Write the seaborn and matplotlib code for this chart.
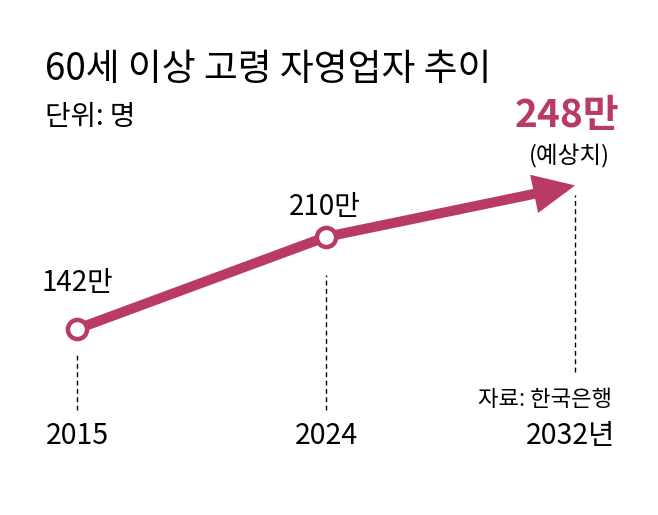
import pandas as pd
import seaborn as sns
import matplotlib.pyplot as plt

plt.switch_backend('Agg')

years = ["2015", "2024", "2032년"]
values = [142, 210, 248]
value_labels = ["142만", "210만", "248만"]
title = "60세 이상 고령 자영업자 추이"
unit_note = "단위: 명"
forecast_note = "(예상치)"
source_note = "자료: 한국은행"

RED = "#B93A63"

sns.set_theme(style="white")
plt.rcParams['font.family'] = ['Noto Sans CJK KR', 'DejaVu Sans']
plt.rcParams['text.color'] = 'black'

df = pd.DataFrame({"pos": range(len(years)), "value": values, "year": years})

fig = plt.figure(figsize=(6.58, 5.15), dpi=100)
ax = fig.add_axes([0, 0, 1, 1])
ax.set_xlim(-0.31, 2.333)
ax.set_ylim(4.5, 385)
ax.axis("off")

# dashed guides under each point
ax.vlines(df["pos"][0], 82, 125, colors="black", linestyles=(0, (3.5, 2.5)), lw=1)
ax.vlines(df["pos"][1], 82, 182, colors="black", linestyles=(0, (3.5, 2.5)), lw=1)
ax.vlines(df["pos"][2], 110, 241, colors="black", linestyles=(0, (3.5, 2.5)), lw=1)

# solid part of the line
sns.lineplot(data=df.iloc[:2], x="pos", y="value", color=RED, lw=7.2,
             ax=ax, solid_capstyle="butt", zorder=3)

# forecast arrow
ax.annotate("", xy=(df["pos"][2], values[2]), xytext=(df["pos"][1], values[1]),
            arrowprops=dict(arrowstyle="-|>,head_length=1.5,head_width=0.7",
                            color=RED, lw=7.2, shrinkA=0, shrinkB=0,
                            joinstyle="miter"), zorder=3)

sns.scatterplot(data=df.iloc[:2], x="pos", y="value", s=190, color="white",
                edgecolor=RED, linewidth=3.2, ax=ax, zorder=4)

# value labels
ax.annotate(value_labels[0], (0, values[0]), xytext=(0, 22), textcoords="offset points",
            ha="center", va="bottom", fontsize=20)
ax.annotate(value_labels[1], (1, values[1]), xytext=(-1, 11), textcoords="offset points",
            ha="center", va="bottom", fontsize=20)
ax.annotate(value_labels[2], (2, values[2]), xytext=(-6, 50), textcoords="offset points",
            ha="center", va="center", fontsize=28, fontweight="bold", color=RED)
ax.annotate(forecast_note, (2, values[2]), xytext=(-4, 21), textcoords="offset points",
            ha="center", va="center", fontsize=17)

# year labels
for i, yr in enumerate(years):
    dx = -0.02 if i == 2 else 0
    ax.text(i + dx, 63, yr, ha="center", va="center", fontsize=20.5)

ax.text(612 / 658, 1 - 400 / 515, source_note, transform=ax.transAxes,
        ha="right", va="center", fontsize=16)

fig.text(45 / 658, 1 - 70 / 515, title, ha="left", va="center",
         fontsize=26.5)
fig.text(45 / 658, 1 - 117 / 515, unit_note, ha="left", va="center", fontsize=20)

fig.savefig("out.png", dpi=100)
